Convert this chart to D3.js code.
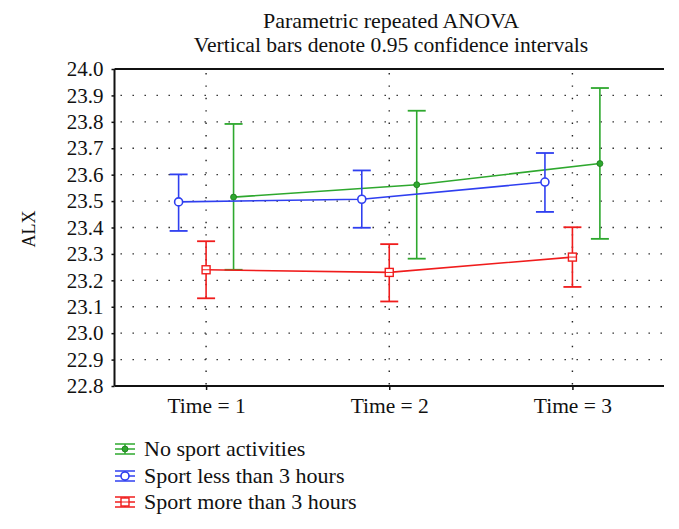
<!DOCTYPE html>
<html>
<head>
<meta charset="utf-8">
<script src="https://cdn.jsdelivr.net/npm/d3@7"></script>
<style>
  html, body { margin: 0; padding: 0; background: #fff; }
  svg text { font-family: 'Liberation Serif', 'DejaVu Serif', serif; fill: #111; }
</style>
</head>
<body>
<svg id="chart" width="679" height="529"></svg>
<script>
// ── data ──
const times = ['Time = 1', 'Time = 2', 'Time = 3'];
const yTicks = [22.8, 22.9, 23.0, 23.1, 23.2, 23.3, 23.4, 23.5, 23.6, 23.7, 23.8, 23.9, 24.0];

const groups = ['No sport activities', 'Sport less than 3 hours', 'Sport more than 3 hours'];
const groupColors = ['#2ea82e', '#2f3ff0', '#f01c1c'];

// means and 95% CI per group, per time
const meanNoSport   = [23.515, 23.562, 23.642];
const lowNoSport    = [23.240, 23.282, 23.357];
const highNoSport   = [23.792, 23.842, 23.928];

const meanLess3     = [23.497, 23.507, 23.572];
const lowLess3      = [23.387, 23.399, 23.459];
const highLess3     = [23.601, 23.616, 23.682];

const meanMore3     = [23.240, 23.230, 23.288];
const lowMore3      = [23.132, 23.120, 23.175];
const highMore3     = [23.348, 23.337, 23.401];

const series = [
  { name: groups[0], color: groupColors[0], mean: meanNoSport, low: lowNoSport, high: highNoSport, offset: 0.15, marker: 'dot' },
  { name: groups[1], color: groupColors[1], mean: meanLess3,   low: lowLess3,   high: highLess3,   offset: -0.15, marker: 'circle' },
  { name: groups[2], color: groupColors[2], mean: meanMore3,   low: lowMore3,   high: highMore3,   offset: 0, marker: 'square' },
];

// ── layout ──
const L = 114.5, R = 664, T = 69, B = 386;
const svg = d3.select('#chart');

const x = d3.scalePoint().domain(times).range([L, R]).padding(0.5);
const step = x.step();
const y = d3.scaleLinear().domain([22.8, 24.0]).range([B, T]);

// title
svg.append('text').attr('x', 391).attr('y', 27.5).attr('text-anchor', 'middle')
  .attr('font-size', 22).text('Parametric repeated ANOVA');
svg.append('text').attr('x', 391).attr('y', 52).attr('text-anchor', 'middle')
  .attr('font-size', 21.6).text('Vertical bars denote 0.95 confidence intervals');

// grid (dotted)
const grid = svg.append('g');
grid.selectAll('.hg').data(yTicks.filter(v => v > 22.85 && v < 23.95)).join('line')
  .attr('x1', L + 6).attr('x2', R).attr('y1', d => y(d)).attr('y2', d => y(d))
  .attr('stroke', '#222').attr('stroke-width', 1.4).attr('stroke-dasharray', '1.4,10.6');
grid.selectAll('.vg').data(times).join('line')
  .attr('x1', d => x(d)).attr('x2', d => x(d)).attr('y1', T + 4).attr('y2', B)
  .attr('stroke', '#222').attr('stroke-width', 1.4).attr('stroke-dasharray', '1.4,11');

// axes
const yAxis = svg.append('g').attr('transform', `translate(${L},0)`)
  .call(d3.axisLeft(y).tickValues(yTicks).tickFormat(d3.format('.1f')).tickSize(3).tickPadding(8));
const xAxis = svg.append('g').attr('transform', `translate(0,${B})`)
  .call(d3.axisBottom(x).tickSize(4).tickPadding(8));
[yAxis, xAxis].forEach(a => {
  a.select('.domain').attr('stroke', '#111').attr('stroke-width', 2);
  a.selectAll('.tick line').attr('stroke', '#111').attr('stroke-width', 1.5);
  a.selectAll('.tick text').attr('font-size', 21).attr('font-family', "'Liberation Serif', serif").attr('fill', '#111');
});
xAxis.selectAll('.tick text').attr('font-size', 21.5);
xAxis.select('.domain').attr('d', `M${L},0H${R}`);
yAxis.select('.domain').attr('d', `M0,${B}V${T}`);
// top border
svg.append('line').attr('x1', L).attr('x2', R).attr('y1', T).attr('y2', T)
  .attr('stroke', '#111').attr('stroke-width', 2);

// y label
svg.append('text').attr('transform', 'translate(35,229) rotate(-90)')
  .attr('text-anchor', 'middle').attr('font-size', 18).text('ALX');

// ── series ──
const px = (s, i) => x(times[i]) + s.offset * step;
const capW = 9;

function drawMarker(g, s, cx, cy) {
  if (s.marker === 'dot') {
    g.append('circle').attr('cx', cx).attr('cy', cy).attr('r', 3)
      .attr('fill', s.color).attr('stroke', '#1a7a1a').attr('stroke-width', 0.8);
  } else if (s.marker === 'circle') {
    g.append('circle').attr('cx', cx).attr('cy', cy).attr('r', 4)
      .attr('fill', '#fff').attr('stroke', s.color).attr('stroke-width', 1.6);
  } else {
    g.append('rect').attr('x', cx - 4).attr('y', cy - 4).attr('width', 8).attr('height', 8)
      .attr('fill', '#fff').attr('stroke', s.color).attr('stroke-width', 1.4);
    g.append('line').attr('x1', cx - 4).attr('x2', cx + 4).attr('y1', cy).attr('y2', cy)
      .attr('stroke', s.color).attr('stroke-width', 1);
  }
}

// draw order: green, blue, red on top
series.forEach(s => {
  const g = svg.append('g');
  const line = d3.line().x((d, i) => px(s, i)).y(d => y(d));
  g.append('path').attr('d', line(s.mean)).attr('fill', 'none')
    .attr('stroke', s.color).attr('stroke-width', 1.6);
  s.mean.forEach((m, i) => {
    const cx = px(s, i);
    g.append('line').attr('x1', cx).attr('x2', cx).attr('y1', y(s.low[i])).attr('y2', y(s.high[i]))
      .attr('stroke', s.color).attr('stroke-width', 1.6);
    [s.low[i], s.high[i]].forEach(v => {
      g.append('line').attr('x1', cx - capW).attr('x2', cx + capW).attr('y1', y(v)).attr('y2', y(v))
        .attr('stroke', s.color).attr('stroke-width', 1.8);
    });
    drawMarker(g, s, cx, y(m));
  });
});

// ── legend ──
const legY = [449, 476, 502];
series.forEach((s, i) => {
  const g = svg.append('g');
  const cy = legY[i], x0 = 115, x1 = 135, cx = 125;
  [cy - 5, cy, cy + 5].forEach(yy => {
    g.append('line').attr('x1', x0).attr('x2', x1).attr('y1', yy).attr('y2', yy)
      .attr('stroke', s.color).attr('stroke-width', 1.5);
  });
  g.append('line').attr('x1', cx).attr('x2', cx).attr('y1', cy - 5).attr('y2', cy + 5)
    .attr('stroke', s.color).attr('stroke-width', 1.5);
  drawMarker(g, s, cx, cy);
  g.append('text').attr('x', 144).attr('y', cy + 7).attr('font-size', 22).text(s.name);
});
</script>
</body>
</html>
